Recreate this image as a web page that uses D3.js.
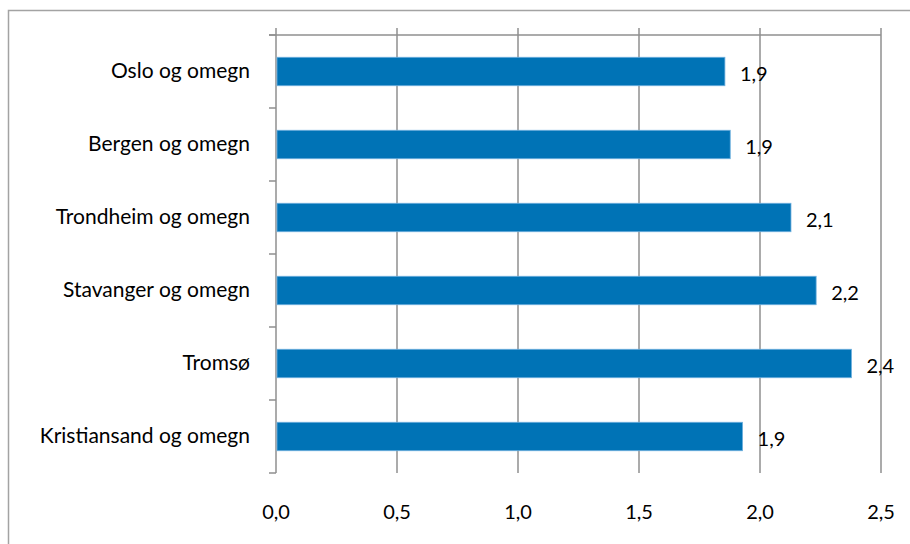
<!DOCTYPE html>
<html>
<head>
<meta charset="utf-8">
<script src="https://cdn.jsdelivr.net/npm/d3@7"></script>
<style>
  html, body { margin: 0; padding: 0; background: #fff; }
  svg { display: block; }
  text { font-family: Lato, "Open Sans", sans-serif; fill: #000; }
</style>
</head>
<body>
<svg id="chart" width="910" height="544"></svg>
<script>
// Regions and their values
const categories = [
  "Oslo og omegn",
  "Bergen og omegn",
  "Trondheim og omegn",
  "Stavanger og omegn",
  "Tromsø",
  "Kristiansand og omegn"
];
const values = [1.855, 1.877, 2.128, 2.232, 2.378, 1.928];
const xTicks = [0, 0.5, 1.0, 1.5, 2.0, 2.5];

const svg = d3.select("#chart");
const W = 910, H = 544;
const plot = { left: 276, right: 881, top: 35, bottom: 473 };
const labelSize = "21px";
const numberSize = "20px";

const fmt = v => d3.format(".1f")(v).replace(".", ",");

// Outer chart frame
svg.append("path")
  .attr("d", `M8.5,${H} V10.5 H${W}`)
  .attr("fill", "none")
  .attr("stroke", "#a3a3a3")
  .attr("stroke-width", 1.5);

const x = d3.scaleLinear().domain([0, 2.5]).range([plot.left, plot.right]);
const y = d3.scaleBand().domain(categories).range([plot.top, plot.bottom]).paddingInner(0.61).paddingOuter(0.305);
const yEdges = d3.scaleLinear().domain([0, categories.length]).range([plot.top, plot.bottom]);

// Vertical gridlines
svg.append("g")
  .selectAll("line")
  .data(xTicks.slice(1))
  .join("line")
  .attr("x1", d => x(d)).attr("x2", d => x(d))
  .attr("y1", plot.top - 7).attr("y2", plot.bottom)
  .attr("stroke", "#8f8f8f")
  .attr("stroke-width", 1.5);

// Top edge line
svg.append("line")
  .attr("x1", plot.left - 7).attr("x2", plot.right)
  .attr("y1", plot.top).attr("y2", plot.top)
  .attr("stroke", "#8f8f8f")
  .attr("stroke-width", 1.5);

// Category axis line with boundary ticks
svg.append("line")
  .attr("x1", plot.left).attr("x2", plot.left)
  .attr("y1", plot.top - 7).attr("y2", plot.bottom)
  .attr("stroke", "#8f8f8f")
  .attr("stroke-width", 1.5);
svg.append("g")
  .selectAll("line")
  .data(d3.range(categories.length + 1))
  .join("line")
  .attr("x1", plot.left - 7).attr("x2", plot.left)
  .attr("y1", d => yEdges(d)).attr("y2", d => yEdges(d))
  .attr("stroke", "#8f8f8f")
  .attr("stroke-width", 1.5);

// Bars
svg.append("g")
  .selectAll("rect")
  .data(values)
  .join("rect")
  .attr("x", x(0) + 1)
  .attr("y", (d, i) => y(categories[i]))
  .attr("width", d => x(d) - x(0) - 1)
  .attr("height", y.bandwidth())
  .attr("fill", "#0073B6")
  .attr("stroke", "#6fb0de")
  .attr("stroke-width", 0.8);

// Category labels
svg.append("g")
  .selectAll("text")
  .data(categories)
  .join("text")
  .attr("x", 250)
  .attr("y", d => y(d) + y.bandwidth() / 2 + 1)
  .attr("text-anchor", "end")
  .attr("dominant-baseline", "middle")
  .style("font-size", labelSize)
  .text(d => d);

// Value labels
svg.append("g")
  .selectAll("text")
  .data(values)
  .join("text")
  .attr("x", d => x(d) + 15)
  .attr("y", (d, i) => y(categories[i]) + y.bandwidth() / 2 + 4)
  .attr("dominant-baseline", "middle")
  .style("font-size", numberSize)
  .text(d => fmt(d));

// Value axis tick labels
svg.append("g")
  .selectAll("text")
  .data(xTicks)
  .join("text")
  .attr("x", d => x(d))
  .attr("y", 519)
  .attr("text-anchor", "middle")
  .style("font-size", numberSize)
  .text(d => fmt(d));
</script>
</body>
</html>
